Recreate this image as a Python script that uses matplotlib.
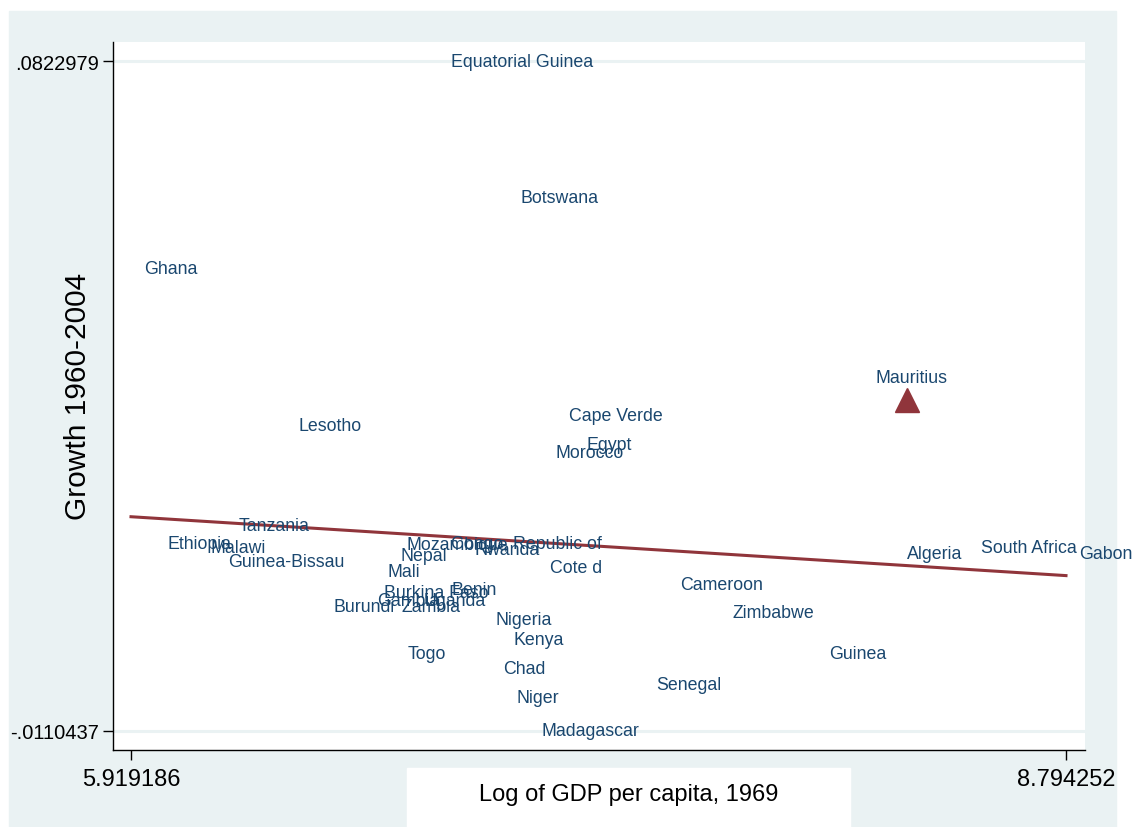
import numpy as np
import matplotlib.pyplot as plt
from matplotlib.patches import Rectangle

# country labels and values (log GDP per capita 1969, growth 1960-2004)
countries = ["Equatorial Guinea", "Botswana", "Ghana", "Cape Verde", "Lesotho",
             "Egypt", "Morocco", "Tanzania", "Ethiopia", "Malawi",
             "Guinea-Bissau", "Mozambique", "Congo, Republic of", "Nepal",
             "Rwanda", "Cote d", "Mali", "Benin", "Burkina Faso", "Gambia",
             "Uganda", "Burundi", "Zambia", "Nigeria", "Kenya", "Togo", "Chad",
             "Niger", "Madagascar", "Senegal", "Cameroon", "Zimbabwe", "Guinea",
             "Algeria", "South Africa", "Gabon"]
log_gdp = [6.8632, 7.0753, 5.919186, 7.2260, 6.3927,
           7.2783, 7.1830, 6.2113, 5.9899, 6.1221,
           6.1775, 6.7248, 6.8632, 6.7064,
           6.9339, 7.1676, 6.6664, 6.8632, 6.6572, 6.6356,
           6.7802, 6.5003, 6.7094, 6.9985, 7.0538, 6.7310, 7.0231,
           7.0630, 7.1399, 7.4935, 7.5673, 7.7272, 8.0255,
           8.2653, 8.4929, 8.794252]
growth = [0.0822979, 0.063353, 0.053461, 0.032981, 0.031588,
          0.028802, 0.027826, 0.017517, 0.015148, 0.014452,
          0.012640, 0.015009, 0.015148, 0.013476,
          0.014312, 0.011804, 0.011247, 0.008739, 0.008321, 0.007068,
          0.007207, 0.006232, 0.006371, 0.004560, 0.001773, -0.000316, -0.002267,
          -0.006446, -0.0110437, -0.004635, 0.009297, 0.005396, -0.000177,
          0.013616, 0.014591, 0.013616]

# highlighted country
mauritius_x = 8.3053
mauritius_y = 0.035071

xticks = [5.919186, 8.794252]
yticks = [-0.0110437, 0.0822979]

navy = "#1a476f"
maroon = "#90353b"
bgcol = "#eaf2f3"

plt.rcParams['font.family'] = ['Liberation Sans', 'DejaVu Sans']

fig = plt.figure(figsize=(11.33, 8.28), dpi=100)
fig.patches.append(Rectangle((9/1133, 0), 1107/1133, 816/828,
                             transform=fig.transFigure, color=bgcol, zorder=-10))
fig.patches.append(Rectangle((407/1133, 0), 443/1133, 59/828,
                             transform=fig.transFigure, color="white", zorder=-5))

ax = fig.add_axes([113/1133, 77/828, 972/1133, 708/828])
ax.set_facecolor("white")

for yv in yticks:
    ax.axhline(yv, color=bgcol, lw=2.2, zorder=1)

# linear fit through all points
allx = np.array(log_gdp + [mauritius_x])
ally = np.array(growth + [mauritius_y])
b, a = np.polyfit(allx, ally, 1)
fx = np.array(xticks)
ax.plot(fx, a + b * fx, color=maroon, lw=2.2, zorder=3)

for name, xv, yv in zip(countries, log_gdp, growth):
    ax.annotate(name, (xv, yv), xytext=(9.4, 0), textcoords="offset points",
                ha="left", va="center", color=navy, fontsize=12.8, zorder=4,
                annotation_clip=False)

ax.plot([mauritius_x], [mauritius_y], marker="^", ms=17, color=maroon,
        ls="none", zorder=5)
ax.annotate("Mauritius", (mauritius_x, mauritius_y), xytext=(3, 10),
            textcoords="offset points", ha="center", va="bottom",
            color=navy, fontsize=12.8, zorder=5)

ax.set_xlim(5.8638, 8.8527)
ax.set_ylim(-0.013691, 0.084948)
ax.set_xticks(xticks)
ax.set_xticklabels(["5.919186", "8.794252"], fontsize=17)
ax.set_yticks(yticks)
ax.set_yticklabels(["-.0110437", ".0822979"], fontsize=14.5)
ax.tick_params(direction="out", length=7, width=1, color="black")
ax.tick_params(axis="x", pad=6)
ax.tick_params(axis="y", pad=3)
for s in ["top", "right"]:
    ax.spines[s].set_visible(False)
for s in ["left", "bottom"]:
    ax.spines[s].set_color("black")
    ax.spines[s].set_linewidth(1)

fig.text(78/1133, 1 - 396/828, "Growth 1960-2004", fontsize=21.5,
         rotation=90, ha="center", va="center")
fig.text(629/1133, 1 - 795/828, "Log of GDP per capita, 1969", fontsize=17,
         ha="center", va="center", zorder=5)

fig.savefig("out.png", dpi=100)
